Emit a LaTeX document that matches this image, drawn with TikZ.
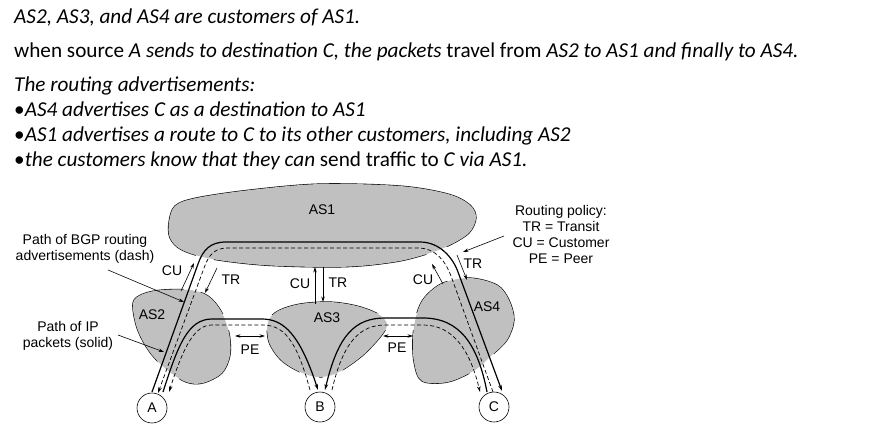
\documentclass[tikz,border=0pt]{standalone}
\usepackage{fontspec}
\setmainfont{Carlito}
\newfontfamily\diagfont{Liberation Sans}
\usetikzlibrary{arrows.meta,calc}
\definecolor{asgray}{RGB}{192,192,192}
\newcommand\ASoneShape{plot[smooth cycle,tension=0.55] coordinates {(169,222) (175,206) (196,198) (250,190) (320,184) (400,186) (448,194) (470,205) (476,218) (469,233) (450,245) (430,253) (400,261) (360,266) (320,267) (262,265) (212,259) (182,250) (170,238)}}
\newcommand\AStwoShape{plot[smooth cycle,tension=0.55] coordinates {(133,303) (143,294) (162,290) (190,290) (208,296) (221,311) (229,333) (230,355) (222,373) (203,383) (186,382) (166,369) (149,351) (137,328)}}
\newcommand\ASthreeShape{plot[smooth cycle,tension=0.55] coordinates {(268,322) (278,311) (300,304) (330,302) (357,306) (378,314) (387,324) (381,336) (362,356) (337,373) (318,377) (300,372) (281,360) (269,342)}}
\newcommand\ASfourShape{plot[smooth cycle,tension=0.55] coordinates {(425,297) (443,283) (470,278) (497,285) (509,300) (514,320) (507,340) (492,355) (475,370) (448,382) (422,381) (414,362) (413,336) (417,313)}}
% packet / advertisement paths
\newcommand\pathACs{(acS) -- (198,264) .. controls (203,250) and (210,242) .. (226,242) -- (420,242) .. controls (440,242) and (453,258) .. (458,272) -- (acE)}
\newcommand\pathACd{(acDs) -- (451,276) .. controls (446,262) and (436,248) .. (418,248) -- (228,248) .. controls (215,248) and (209,254) .. (204,268) -- (acDe)}
\newcommand\pathABs{(abS) .. controls (178,345) and (188,319) .. (212,319) -- (262,319) .. controls (284,319) and (300,335) .. (abE)}
\newcommand\pathABd{(abDs) .. controls (296,338) and (283,325) .. (262,325) -- (212,325) .. controls (195,325) and (184,345) .. (abDe)}
\newcommand\pathCBs{(cbS) .. controls (478,345) and (460,318) .. (423,318) -- (385,318) .. controls (355,318) and (338,335) .. (cbE)}
\newcommand\pathCBd{(cbDs) .. controls (343,342) and (360,325) .. (385,325) -- (423,325) .. controls (453,325) and (470,350) .. (cbDe)}
\begin{document}
\begin{tikzpicture}[x=1pt,y=-1pt,
  every node/.style={inner sep=0pt},
  toptext/.style={font=\fontsize{21.2}{25}\selectfont},
  dlabel/.style={font=\diagfont\fontsize{14}{16}\selectfont},
  outl/.style={draw=black,line width=1.2pt,fill=asgray},
  refill/.style={fill=asgray},
  casing/.style={draw=white,line width=10pt},
  pkt/.style={line width=1.2pt},
  adv/.style={line width=0.7pt,dash pattern=on 4pt off 2.5pt},
  headed/.style={-{Stealth[length=6pt,width=3.6pt]}},
  thinarr/.style={line width=0.6pt,-{Stealth[length=5.5pt,width=3.4pt]}},
  pearr/.style={line width=0.7pt,{Stealth[length=5.5pt,width=3.4pt]}-{Stealth[length=5.5pt,width=3.4pt]}},
  circ/.style={circle,draw,line width=0.6pt,fill=white,minimum size=30pt,dlabel}
]
\useasboundingbox (0,0) rectangle (875,436);

% ---------- top text ----------
\node[toptext,anchor=base west] (t1) at (14,24) {\itshape AS2, AS3, and AS4 are customers of AS1.};
\node[toptext,anchor=base west] (t2) at (14,57) {when source \textit{A sends to destination C, the packets} travel from \textit{AS2 to AS1 and finally to AS4.}};
\node[toptext,anchor=base west] (t3) at (14,91) {\itshape The routing advertisements:};
\node[toptext,anchor=base west] (t4) at (14,116) {•\textit{AS4 advertises C as a destination to AS1}};
\node[toptext,anchor=base west] (t5) at (14,141) {•\textit{AS1 advertises a route to C to its other customers, including AS2}};
\node[toptext,anchor=base west] (t6) at (14,166) {•\textit{the customers know that they can} send traffic to \textit{C via AS1.}};

% ---------- end points ----------
\coordinate (acS) at (152,392);
\coordinate (acE) at (502,391);
\coordinate (acDs) at (493,392);
\coordinate (acDe) at (158,393);
\coordinate (abS) at (163,392);
\coordinate (abE) at (318,390);
\coordinate (abDs) at (310,390);
\coordinate (abDe) at (169,392);
\coordinate (cbS) at (487,392);
\coordinate (cbE) at (325,390);
\coordinate (cbDs) at (332,390);
\coordinate (cbDe) at (480,392);

% ---------- autonomous systems ----------
\path[outl] \ASoneShape;
\path[outl] \AStwoShape;
\path[outl] \ASthreeShape;
\path[outl] \ASfourShape;

% white tubes cutting the outlines
\draw[casing] \pathACs;
\draw[casing] \pathACd;
\draw[casing] \pathABs;
\draw[casing] \pathABd;
\draw[casing] \pathCBs;
\draw[casing] \pathCBd;

\path[refill] \ASoneShape;
\path[refill] \AStwoShape;
\path[refill] \ASthreeShape;
\path[refill] \ASfourShape;

% ---------- paths ----------
\draw[pkt,headed] \pathACs;
\draw[adv,headed] \pathACd;
\draw[pkt,headed] \pathABs;
\draw[adv,headed] \pathABd;
\draw[pkt,headed] \pathCBs;
\draw[adv,headed] \pathCBd;

% ---------- end hosts ----------
\node[circ] (A) at (152,408) {A};
\node[circ] (B) at (320,407) {B};
\node[circ] (C) at (494,407) {C};

% ---------- AS labels ----------
\node[dlabel] (l1) at (322,210) {AS1};
\node[dlabel] (l2) at (152,315) {AS2};
\node[dlabel] (l3) at (327,318) {AS3};
\node[dlabel] (l4) at (487,307) {AS4};

% ---------- relationship arrows ----------
\draw[thinarr] (181,291) -- (194,263);
\draw[thinarr] (217,268) -- (205,293);
\node[dlabel] (cu1) at (172,271) {CU};
\node[dlabel] (tr1) at (231,280) {TR};

\draw[thinarr] (315,304) -- (315,267);
\draw[thinarr] (323,267) -- (323,302);
\node[dlabel] (cu2) at (300,284) {CU};
\node[dlabel] (tr2) at (338,283) {TR};

\draw[thinarr] (443,284) -- (432,264);
\draw[thinarr] (457,255) -- (467,280);
\node[dlabel] (cu3) at (423,280) {CU};
\node[dlabel] (tr3) at (473,264) {TR};

\draw[pearr] (235,336) -- (265,336);
\draw[pearr] (383,336) -- (413,336);
\node[dlabel] (pe1) at (250,350) {PE};
\node[dlabel] (pe2) at (397,348) {PE};

% ---------- annotations ----------
\node[dlabel,align=center] (bgp) at (85,249) {Path of BGP routing\\advertisements (dash)};
\node[dlabel,align=center] (ip) at (68,336) {Path of IP\\packets (solid)};
\node[dlabel,align=center] (pol) at (561,234) {Routing policy:\\TR = Transit\\CU = Customer\\PE = Peer};
\coordinate (bgpT) at (184,302);
\coordinate (ipT) at (164,352);
\coordinate (polT) at (463,252);
\draw[thinarr] (108,270) -- (bgpT);
\draw[thinarr] (118,335) -- (ipT);
\draw[thinarr] (504,236) -- (polT);
\end{tikzpicture}
\end{document}
